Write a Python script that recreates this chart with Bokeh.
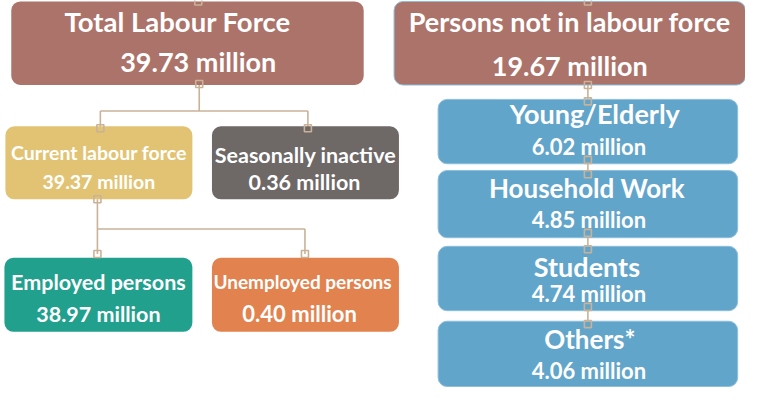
from bokeh.plotting import figure
from bokeh.models import Range1d
from bokeh.embed import file_html
from bokeh.resources import INLINE
from bokeh.core.properties import value

# ---------------- data ----------------
left_titles = ["Total Labour Force", "Current labour force", "Seasonally inactive",
               "Employed persons", "Unemployed persons"]
left_values = [39.73, 39.37, 0.36, 38.97, 0.40]
right_titles = ["Persons not in labour force", "Young/Elderly", "Household Work",
                "Students", "Others*"]
right_values = [19.67, 6.02, 4.85, 4.74, 4.06]
unit = "million"

# ---------------- layout (reference pixel space 761 x 403) ----------------
# boxes: left, right, top, bottom
left_boxes = [(11, 371, 1, 88), (5, 196, 131, 207), (216, 407, 131, 207),
              (4, 196, 268, 345), (216, 407, 268, 345)]
right_boxes = [(402, 761, 1, 88), (447, 753, 103, 170), (447, 753, 177, 247),
               (447, 753, 256, 323), (447, 753, 334, 402)]
left_colors = ["#AC736A", "#E2C373", "#6E6867", "#21A08E", "#E2824F"]
right_colors = ["#AC736A", "#62A5CB", "#62A5CB", "#62A5CB", "#62A5CB"]
# text offsets: (title dx from centre, title dy from top, value dx, value dy)
left_text = [(-10, 21, 11, 63), (0, 27, 0, 58), (0, 30, -1, 58), (0, 25, 0, 58), (-3, 25, -6, 58)]
right_text = [(0, 21, 0, 67), (7, 15, 1, 49), (-1, 18, 1, 51), (-1, 21, 1, 49), (2, 18, 1, 51)]
left_sizes = [("27.5px", "27px"), ("19.5px", "19.5px"), ("21.5px", "21.5px"),
              ("21.5px", "21.5px"), ("19px", "22px")]
right_sizes = [("27px", "27px"), ("27px", "22px"), ("26px", "22px"), ("27px", "22px"), ("26px", "22px")]

W, H = 761, 403
p = figure(width=745, height=387, output_backend="svg", toolbar_location=None,
           x_range=Range1d(0, W), y_range=Range1d(H, 0), min_border=0)
p.axis.visible = False
p.grid.visible = False
p.outline_line_color = None
p.background_fill_color = "white"

TAN = "#C9B298"

def draw_boxes(boxes, colors, titles, values, offs, sizes, border):
    for (l, r, t, b), c, ti, v, (tdx, tdy, vdx, vdy), (ts, vs) in zip(boxes, colors, titles, values, offs, sizes):
        cx = (l + r) / 2
        p.rect(x=[cx], y=[(t + b) / 2], width=[r - l], height=[b - t], fill_color=c,
               line_color=border, line_width=1, border_radius=9)
        p.text(x=[cx + tdx], y=[t + tdy], text=[ti], text_color="white", text_font=value("Lato"),
               text_font_style="bold", text_font_size=ts, text_align="center", text_baseline="middle")
        p.text(x=[cx + vdx], y=[t + vdy], text=[f"{v:.2f} {unit}"], text_color="white",
               text_font=value("Lato"), text_font_style="bold", text_font_size=vs,
               text_align="center", text_baseline="middle")

# connectors (drawn first, under squares)
lx = [[203, 203], [102, 314], [102, 102], [314, 314], [99, 99], [99, 311], [311, 311]]
ly = [[88, 115], [115, 115], [115, 133], [115, 133], [207, 264], [238, 238], [238, 264]]
rx = [[600, 600]] * 4
ry = [[88, 105], [166, 181], [242, 259], [319, 337]]
p.multi_line(xs=lx + rx, ys=ly + ry, line_color=TAN, line_width=1.6)

draw_boxes(left_boxes, left_colors, left_titles, left_values, left_text, left_sizes, None)
draw_boxes(right_boxes, right_colors, right_titles, right_values, right_text, right_sizes, "#8DBFDC")

sqx = [202, 203, 102, 314, 99, 99, 311, 600, 600, 600, 600, 600, 600, 600, 600, 600]
sqy = [1, 87, 133, 133, 207, 264, 264, 1, 88, 105, 166, 181, 242, 259, 319, 337]
p.scatter(x=sqx, y=sqy, marker="square", size=7, fill_alpha=0, line_color=TAN, line_width=1.6)

open("out.html", "w").write(file_html(p, INLINE))
